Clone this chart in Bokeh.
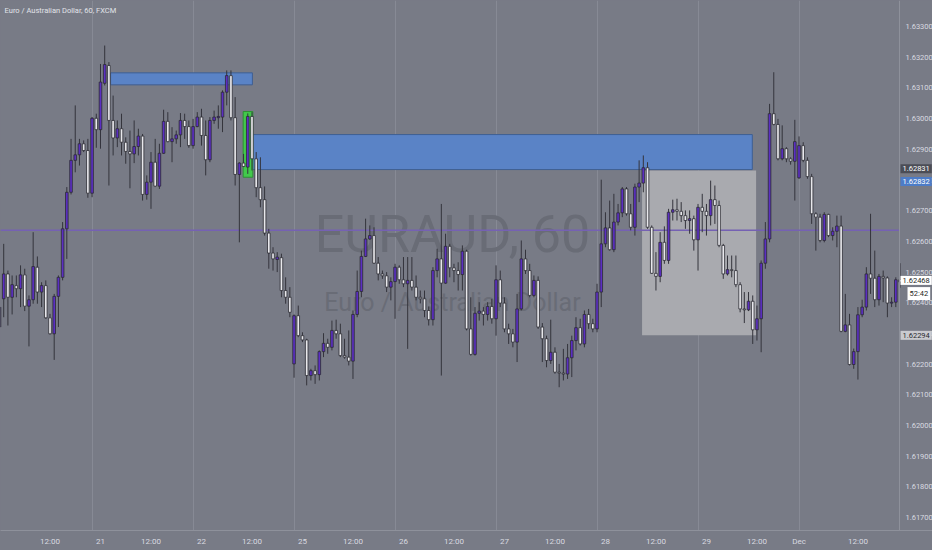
from bokeh.plotting import figure
from bokeh.models import (ColumnDataSource, FixedTicker, Label, Range1d, LinearAxis,
                          PrintfTickFormatter, GlobalInlineStyleSheet)
from bokeh.embed import file_html
from bokeh.resources import INLINE

# ---------------- data (EUR/AUD, 60 min bars, FXCM) ----------------
opens = [
    1.62321, 1.62413, 1.62494, 1.62418, 1.62456, 1.62446, 1.62491, 1.62389, 1.62410, 1.62516,
    1.62435, 1.62456, 1.62351, 1.62299, 1.62421, 1.62483, 1.62641, 1.62760, 1.62864, 1.62882,
    1.62918, 1.62896, 1.62757, 1.63001, 1.62964, 1.63115, 1.63173, 1.62994, 1.62937, 1.62967,
    1.62923, 1.62893, 1.62885, 1.62909, 1.62943, 1.62753, 1.62793, 1.62858, 1.62780, 1.62887,
    1.62991, 1.62925, 1.62934, 1.62947, 1.62994, 1.62974, 1.62912, 1.62974, 1.63005, 1.62945,
    1.62866, 1.62994, 1.63003, 1.63005, 1.63086, 1.63140, 1.63003, 1.62818, 1.62855, 1.62842,
    1.63007, 1.62869, 1.62775, 1.62736, 1.62627, 1.62562, 1.62541, 1.62547, 1.62440, 1.62418,
    1.62201, 1.62358, 1.62293, 1.62279, 1.62163, 1.62179, 1.62166, 1.62241, 1.62268, 1.62255,
    1.62310, 1.62299, 1.62228, 1.62223, 1.62210, 1.62362, 1.62437, 1.62551, 1.62608, 1.62619,
    1.62529, 1.62494, 1.62488, 1.62451, 1.62469, 1.62516, 1.62475, 1.62462, 1.62473, 1.62451,
    1.62418, 1.62413, 1.62375, 1.62345, 1.62505, 1.62543, 1.62464, 1.62584, 1.62514, 1.62505,
    1.62492, 1.62568, 1.62315, 1.62232, 1.62366, 1.62373, 1.62362, 1.62388, 1.62348, 1.62475,
    1.62399, 1.62315, 1.62299, 1.62272, 1.62380, 1.62543, 1.62505, 1.62424, 1.62473, 1.62321,
    1.62283, 1.62212, 1.62239, 1.62174, 1.62171, 1.62168, 1.62221, 1.62277, 1.62319, 1.62266,
    1.62362, 1.62332, 1.62315, 1.62435, 1.62592, 1.62644, 1.62573, 1.62663, 1.62693, 1.62771,
    1.62690, 1.62646, 1.62777, 1.62790, 1.62840, 1.62646, 1.62496, 1.62486, 1.62597, 1.62538,
    1.62695, 1.62703, 1.62698, 1.62684, 1.62668, 1.62674, 1.62605, 1.62711, 1.62698, 1.62684,
    1.62736, 1.62717, 1.62587, 1.62494, 1.62508, 1.62505, 1.62459, 1.62380, 1.62377, 1.62405,
    1.62312, 1.62348, 1.62529, 1.62608, 1.63016, 1.62981, 1.62869, 1.62902, 1.62869, 1.62861,
    1.62807, 1.62912, 1.62864, 1.62811, 1.62690, 1.62679, 1.62603, 1.62688, 1.62619, 1.62633,
    1.62650, 1.62307, 1.62328, 1.62199, 1.62241, 1.62361, 1.62386, 1.62494, 1.62480, 1.62410,
    1.62486, 1.62481, 1.62399, 1.62402, 1.62475,
]
highs = [
    1.62505, 1.62592, 1.62505, 1.62489, 1.62489, 1.62522, 1.62511, 1.62424, 1.62630, 1.62551,
    1.62467, 1.62473, 1.62364, 1.62429, 1.62489, 1.62663, 1.62777, 1.62934, 1.63043, 1.62934,
    1.62929, 1.62934, 1.63005, 1.63016, 1.63178, 1.63238, 1.63184, 1.63075, 1.62994, 1.63016,
    1.62939, 1.62961, 1.62994, 1.62967, 1.62950, 1.62815, 1.62891, 1.62934, 1.62918, 1.63029,
    1.63021, 1.62972, 1.62961, 1.63018, 1.63016, 1.62994, 1.62999, 1.63021, 1.63032, 1.62994,
    1.63005, 1.63026, 1.63043, 1.63092, 1.63157, 1.63157, 1.63070, 1.62858, 1.62885, 1.63017,
    1.63021, 1.62891, 1.62874, 1.62779, 1.62641, 1.62581, 1.62565, 1.62560, 1.62483, 1.62451,
    1.62362, 1.62391, 1.62304, 1.62283, 1.62185, 1.62196, 1.62245, 1.62301, 1.62283, 1.62342,
    1.62345, 1.62332, 1.62283, 1.62310, 1.62375, 1.62505, 1.62570, 1.62674, 1.62652, 1.62646,
    1.62549, 1.62505, 1.62500, 1.62483, 1.62527, 1.62522, 1.62549, 1.62549, 1.62549, 1.62489,
    1.62440, 1.62440, 1.62388, 1.62516, 1.62576, 1.62722, 1.62625, 1.62592, 1.62527, 1.62532,
    1.62587, 1.62573, 1.62418, 1.62386, 1.62402, 1.62386, 1.62402, 1.62413, 1.62522, 1.62505,
    1.62418, 1.62332, 1.62315, 1.62429, 1.62603, 1.62573, 1.62527, 1.62489, 1.62486, 1.62334,
    1.62293, 1.62345, 1.62255, 1.62201, 1.62250, 1.62266, 1.62293, 1.62353, 1.62348, 1.62375,
    1.62380, 1.62348, 1.62462, 1.62801, 1.62695, 1.62733, 1.62755, 1.62722, 1.62777, 1.62777,
    1.62722, 1.62788, 1.62864, 1.62880, 1.62858, 1.62652, 1.62565, 1.62630, 1.62649, 1.62706,
    1.62736, 1.62739, 1.62728, 1.62701, 1.62701, 1.62684, 1.62722, 1.62755, 1.62722, 1.62798,
    1.62782, 1.62733, 1.62592, 1.62554, 1.62554, 1.62554, 1.62467, 1.62435, 1.62435, 1.62424,
    1.62391, 1.62538, 1.62663, 1.63048, 1.63151, 1.62999, 1.62978, 1.62907, 1.62874, 1.62996,
    1.62942, 1.62923, 1.62874, 1.62820, 1.62695, 1.62690, 1.62695, 1.62690, 1.62646, 1.62684,
    1.62684, 1.62429, 1.62364, 1.62251, 1.62386, 1.62410, 1.62516, 1.62690, 1.62570, 1.62494,
    1.62505, 1.62486, 1.62418, 1.62483, 1.62529,
]
lows = [
    1.62170, 1.62353, 1.62326, 1.62362, 1.62418, 1.62386, 1.62373, 1.62258, 1.62397, 1.62397,
    1.62386, 1.62348, 1.62297, 1.62214, 1.62321, 1.62473, 1.62543, 1.62753, 1.62825, 1.62847,
    1.62891, 1.62742, 1.62744, 1.62905, 1.62902, 1.63108, 1.62782, 1.62880, 1.62907, 1.62880,
    1.62853, 1.62773, 1.62855, 1.62880, 1.62733, 1.62736, 1.62706, 1.62777, 1.62771, 1.62885,
    1.62923, 1.62858, 1.62918, 1.62907, 1.62934, 1.62905, 1.62902, 1.62972, 1.62912, 1.62815,
    1.62858, 1.62983, 1.62967, 1.62956, 1.63043, 1.62994, 1.62782, 1.62597, 1.62842, 1.62820,
    1.62831, 1.62744, 1.62711, 1.62619, 1.62511, 1.62505, 1.62500, 1.62418, 1.62397, 1.62353,
    1.62156, 1.62288, 1.62272, 1.62131, 1.62147, 1.62136, 1.62147, 1.62223, 1.62234, 1.62245,
    1.62283, 1.62223, 1.62218, 1.62196, 1.62152, 1.62353, 1.62418, 1.62549, 1.62605, 1.62527,
    1.62473, 1.62478, 1.62435, 1.62408, 1.62348, 1.62462, 1.62451, 1.62250, 1.62440, 1.62408,
    1.62398, 1.62353, 1.62326, 1.62326, 1.62483, 1.62163, 1.62462, 1.62483, 1.62467, 1.62440,
    1.62440, 1.62310, 1.62228, 1.62228, 1.62342, 1.62326, 1.62342, 1.62332, 1.62293, 1.62386,
    1.62304, 1.62266, 1.62255, 1.62207, 1.62375, 1.62494, 1.62418, 1.62418, 1.62315, 1.62207,
    1.62190, 1.62201, 1.62169, 1.62125, 1.62147, 1.62152, 1.62158, 1.62245, 1.62261, 1.62255,
    1.62315, 1.62304, 1.62304, 1.62386, 1.62581, 1.62570, 1.62565, 1.62652, 1.62679, 1.62684,
    1.62636, 1.62619, 1.62728, 1.62760, 1.62641, 1.62494, 1.62440, 1.62467, 1.62527, 1.62527,
    1.62668, 1.62668, 1.62663, 1.62641, 1.62625, 1.62570, 1.62505, 1.62630, 1.62619, 1.62652,
    1.62657, 1.62581, 1.62478, 1.62489, 1.62483, 1.62451, 1.62369, 1.62334, 1.62373, 1.62266,
    1.62277, 1.62239, 1.62511, 1.62597, 1.62978, 1.62864, 1.62864, 1.62858, 1.62850, 1.62733,
    1.62804, 1.62858, 1.62804, 1.62657, 1.62570, 1.62597, 1.62597, 1.62614, 1.62603, 1.62581,
    1.62304, 1.62304, 1.62196, 1.62185, 1.62150, 1.62353, 1.62375, 1.62429, 1.62386, 1.62391,
    1.62402, 1.62353, 1.62386, 1.62386, 1.62449,
]
closes = [
    1.62386, 1.62494, 1.62418, 1.62459, 1.62446, 1.62491, 1.62389, 1.62410, 1.62518, 1.62435,
    1.62456, 1.62351, 1.62299, 1.62421, 1.62483, 1.62641, 1.62760, 1.62864, 1.62882, 1.62918,
    1.62896, 1.62757, 1.63001, 1.62964, 1.63119, 1.63176, 1.62994, 1.62937, 1.62967, 1.62923,
    1.62893, 1.62885, 1.62909, 1.62943, 1.62753, 1.62793, 1.62858, 1.62780, 1.62887, 1.62991,
    1.62925, 1.62934, 1.62947, 1.62994, 1.62974, 1.62912, 1.62974, 1.63005, 1.62945, 1.62866,
    1.62994, 1.63005, 1.63007, 1.63086, 1.63140, 1.63003, 1.62818, 1.62855, 1.62844, 1.63007,
    1.62869, 1.62775, 1.62736, 1.62627, 1.62562, 1.62543, 1.62549, 1.62440, 1.62418, 1.62369,
    1.62358, 1.62293, 1.62279, 1.62163, 1.62179, 1.62166, 1.62241, 1.62268, 1.62255, 1.62310,
    1.62299, 1.62228, 1.62223, 1.62210, 1.62362, 1.62437, 1.62551, 1.62608, 1.62619, 1.62529,
    1.62494, 1.62488, 1.62451, 1.62469, 1.62516, 1.62475, 1.62462, 1.62473, 1.62451, 1.62418,
    1.62413, 1.62375, 1.62345, 1.62505, 1.62543, 1.62464, 1.62584, 1.62514, 1.62505, 1.62492,
    1.62568, 1.62315, 1.62232, 1.62366, 1.62373, 1.62362, 1.62388, 1.62348, 1.62475, 1.62399,
    1.62315, 1.62299, 1.62272, 1.62380, 1.62543, 1.62505, 1.62424, 1.62473, 1.62321, 1.62283,
    1.62212, 1.62239, 1.62174, 1.62171, 1.62168, 1.62221, 1.62277, 1.62319, 1.62266, 1.62362,
    1.62332, 1.62315, 1.62435, 1.62592, 1.62644, 1.62573, 1.62663, 1.62693, 1.62771, 1.62690,
    1.62646, 1.62777, 1.62790, 1.62840, 1.62646, 1.62496, 1.62486, 1.62597, 1.62538, 1.62695,
    1.62703, 1.62698, 1.62684, 1.62668, 1.62674, 1.62605, 1.62711, 1.62698, 1.62684, 1.62736,
    1.62717, 1.62587, 1.62494, 1.62508, 1.62505, 1.62459, 1.62380, 1.62377, 1.62405, 1.62312,
    1.62348, 1.62529, 1.62608, 1.63016, 1.62981, 1.62869, 1.62902, 1.62869, 1.62861, 1.62925,
    1.62912, 1.62864, 1.62811, 1.62690, 1.62679, 1.62603, 1.62688, 1.62619, 1.62633, 1.62650,
    1.62307, 1.62328, 1.62199, 1.62241, 1.62361, 1.62386, 1.62494, 1.62480, 1.62410, 1.62486,
    1.62481, 1.62399, 1.62402, 1.62475, 1.62468,
]

# time axis (bar index) labels and session boundaries
x_tick_pos = [12, 24, 36, 48, 60, 72, 84, 96, 108, 120, 132, 144, 156, 168, 180, 190, 204]
x_tick_labels = ["12:00", "21", "12:00", "22", "12:00", "25", "12:00", "26", "12:00",
                 "27", "12:00", "28", "12:00", "29", "12:00", "Dec", "12:00"]
session_starts = [22, 46, 70, 94, 118, 142, 166, 190]
price_ticks = [1.617, 1.618, 1.619, 1.620, 1.621, 1.622, 1.623, 1.624, 1.625,
               1.626, 1.627, 1.628, 1.629, 1.630, 1.631, 1.632, 1.633]

# drawn zones
blue_left = [26.4, 60.1]
blue_right = [60.1, 178.9]
blue_top = [1.63149, 1.62948]
blue_bottom = [1.63110, 1.62834]
green_left = [57.9]
green_right = [60.2]
green_top = [1.63023]
green_bottom = [1.62809]
grey_left = [152.7]
grey_right = [179.8]
grey_top = [1.62831]
grey_bottom = [1.62294]
hline_price = 1.62636
last_price = 1.62468
countdown = "52:42"

# ---------------- styling / layout ----------------
BG = "#787b86"
FONT = "Roboto"
UP = "#5b2fc2"
DOWN = "#e8e8ec"
EDGE = "#2c2c34"
WICK = "#34343c"
AXIS_TXT = "#d8dae0"
SCALE_EDGE = 213.88      # bar-index position of the price-scale separator

p = figure(width=932, height=550, output_backend="svg", toolbar_location=None,
           x_range=Range1d(0.238, 221.72), y_range=Range1d(1.616583, 1.633847),
           y_axis_location=None, min_border=0, min_border_bottom=20,
           background_fill_color=BG, border_fill_color=BG, outline_line_color=None)
p.stylesheets = [GlobalInlineStyleSheet(css="html, body { background-color: #787b86; }")]

# time axis
xa = p.xaxis[0]
xa.ticker = FixedTicker(ticks=x_tick_pos)
xa.major_label_overrides = {t: l for t, l in zip(x_tick_pos, x_tick_labels)}
xa.major_tick_line_color = None
xa.minor_tick_line_color = None
xa.major_tick_out = 0
xa.major_tick_in = 0
xa.axis_line_color = "#8e919b"
xa.major_label_text_color = AXIS_TXT
xa.major_label_text_font = FONT
xa.major_label_text_font_size = "8px"
xa.major_label_standoff = 6

# price scale
ya = LinearAxis(fixed_location=SCALE_EDGE, ticker=FixedTicker(ticks=price_ticks),
                formatter=PrintfTickFormatter(format="%.5f"),
                major_tick_line_color=None, minor_tick_line_color=None,
                major_tick_out=0, major_tick_in=0, axis_line_color="#8e919b",
                major_label_text_color=AXIS_TXT, major_label_text_font=FONT,
                major_label_text_font_size="7.5px", major_label_standoff=6)
p.add_layout(ya, "right")

p.ygrid.grid_line_color = None
p.xgrid.ticker = FixedTicker(ticks=session_starts)
p.xgrid.grid_line_color = "#878a95"
p.xgrid.grid_line_width = 1

# watermark
p.add_layout(Label(x=107.65, y=1.62624, text="EURAUD, 60", text_align="center",
                   text_baseline="middle", text_font=FONT, text_font_size="52px",
                   text_color="#696c76", level="underlay"))
p.add_layout(Label(x=107.65, y=1.62401, text="Euro / Australian Dollar", text_align="center",
                   text_baseline="middle", text_font=FONT, text_font_size="25px",
                   text_color="#696c76", level="underlay"))

# zones below candles
p.quad(left=grey_left, right=grey_right, top=grey_top, bottom=grey_bottom,
       fill_color="#a9aaaf", line_color=None)
p.quad(left=blue_left, right=blue_right, top=blue_top, bottom=blue_bottom,
       fill_color="#5a83c6", line_color="#3f5f92", line_width=1)
p.quad(left=green_left, right=green_right, top=green_top, bottom=green_bottom,
       fill_color="#42c94b", line_color="#2e8f36", line_width=1)

# horizontal line across the chart pane
p.segment(x0=[p.x_range.start], x1=[SCALE_EDGE], y0=[hline_price], y1=[hline_price],
          line_color="#7561b3", line_width=1.5)

# candles
idx = list(range(len(opens)))
src = ColumnDataSource(dict(
    x=idx, high=highs, low=lows,
    btop=[max(o, c) for o, c in zip(opens, closes)],
    bbot=[min(o, c) for o, c in zip(opens, closes)],
    fill=[UP if c > o else DOWN for o, c in zip(opens, closes)],
))
p.segment(x0="x", y0="low", x1="x", y1="high", source=src, line_color=WICK, line_width=1)
p.vbar(x="x", width=0.62, top="btop", bottom="bbot", source=src,
       fill_color="fill", line_color=EDGE, line_width=0.8)

# header
p.add_layout(Label(x=1.2, y=1.63352, text="Euro / Australian Dollar, 60, FXCM",
                   text_align="left", text_baseline="middle", text_font=FONT,
                   text_font_size="7.5px", text_color="#e2e4ea"))

# price tags on the scale
def tag(y, text, bg, fg, dx=1):
    p.add_layout(Label(x=SCALE_EDGE, y=y, x_offset=dx, text=text, text_align="left",
                       text_baseline="middle", text_font=FONT, text_font_size="7.5px",
                       text_color=fg, background_fill_color=bg, padding=2))

tag(1.62837, f"{grey_top[0]:.5f}", "#4b4d56", "#ffffff")
tag(1.62795, f"{blue_bottom[1] - 0.00002:.5f}", "#4d7cc7", "#ffffff")
tag(last_price + 0.00005, f"{last_price:.5f}", "#ffffff", "#1f1f24")
tag(1.62430, countdown, "#ffffff", "#1f1f24", dx=8)
tag(grey_bottom[0], f"{grey_bottom[0]:.5f}", "#c9cacf", "#2a2a30")

open("out.html", "w").write(file_html(p, INLINE))
